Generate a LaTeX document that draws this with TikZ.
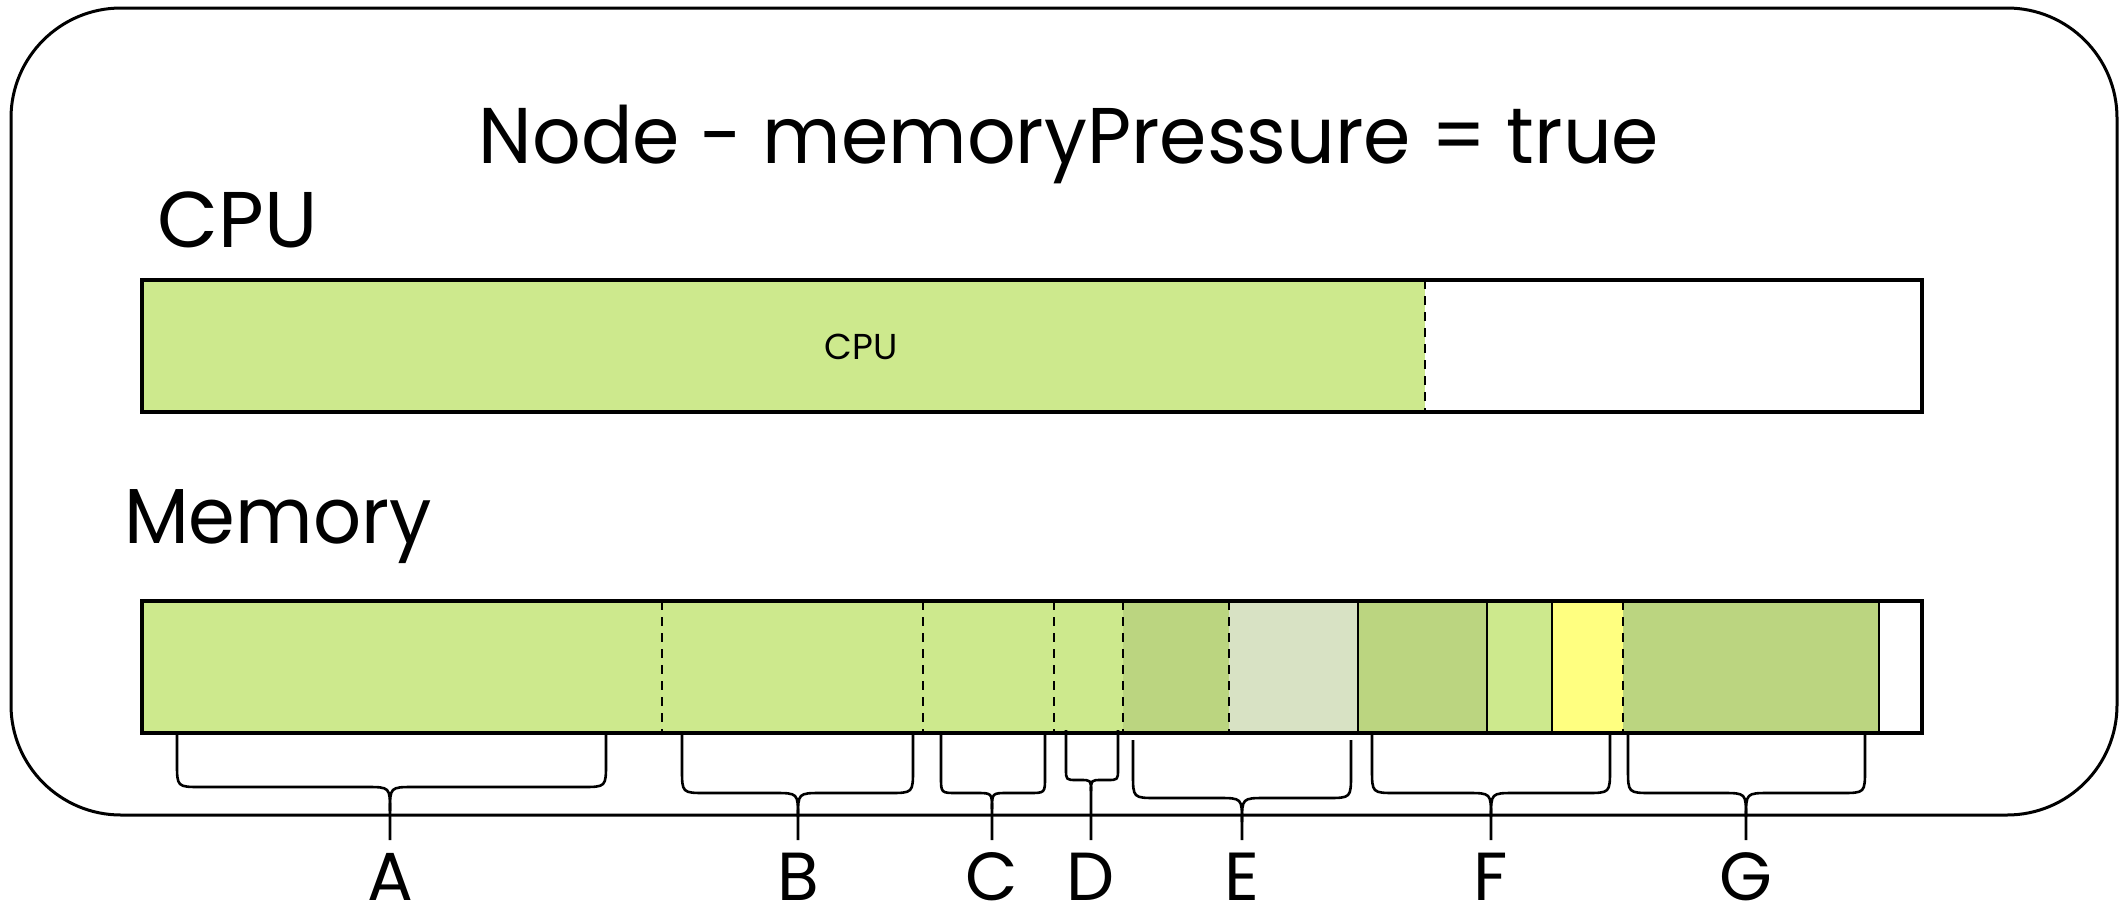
\documentclass[tikz,border=0pt]{standalone}
\usepackage{fontspec}
\setmainfont{Poppins}
\newfontfamily\titlefont[FakeStretch=0.965]{Poppins}
\definecolor{lg}{RGB}{205,233,141}
\definecolor{mg}{RGB}{187,213,128}
\definecolor{pg}{RGB}{216,226,196}
\definecolor{yl}{RGB}{255,255,128}
\tikzset{
  barline/.style={line width=3.5pt},
  divdash/.style={line width=2.5pt, dash pattern=on 9pt off 7pt},
  divsolid/.style={line width=2.5pt},
  braceline/.style={line width=2.6pt, line join=round},
  bigtxt/.style={inner sep=0pt, anchor=base, font=\fontsize{79}{90}\selectfont},
  lettxt/.style={inner sep=0pt, anchor=base, font=\fontsize{68}{78}\selectfont},
}
\newcommand\mybrace[7]{%
  % #1 x1, #2 x2, #3 xm, #4 ytop, #5 ymid, #6 r, #7 name
  \coordinate (#7tip) at (#3,840);
  \draw[braceline] (#1,#4) -- (#1,{#5-#6}) .. controls (#1,#5) .. ({#1+#6},#5)
     -- ({#3-#6},#5) .. controls (#3,#5) .. (#3,{#5+#6}) -- (#7tip);
  \draw[braceline] (#2,#4) -- (#2,{#5-#6}) .. controls (#2,#5) .. ({#2-#6},#5)
     -- ({#3+#6},#5) .. controls (#3,#5) .. (#3,{#5+#6});
}
\begin{document}
\begin{tikzpicture}[x=1pt,y=-1pt]
\useasboundingbox (0,0) rectangle (2122,908);
% outer box
\draw[line width=3pt, rounded corners=110pt] (11,8) rectangle (2117,815);
% titles
\node[bigtxt, font=\fontsize{79}{90}\titlefont] (title) at (1069,163) {Node - memoryPressure = true};
\node[bigtxt] (cpulbl) at (238,247) {CPU};
\node[bigtxt, font=\fontsize{78}{90}\titlefont] (memlbl) at (278,543) {Memory};
% CPU bar
\fill[lg] (142,280) rectangle (1425,412);
\node[inner sep=0pt, anchor=base, font=\fontsize{36}{40}\selectfont] (cputxt) at (861,359) {CPU};
\draw[divdash] (1425,280) -- (1425,412);
\draw[barline] (142,280) rectangle (1922,412);
% Memory bar
\fill[lg] (142,601) rectangle (1123,733);
\fill[mg] (1123,601) rectangle (1229,733);
\fill[pg] (1229,601) rectangle (1358,733);
\fill[mg] (1358,601) rectangle (1487,733);
\fill[lg] (1487,601) rectangle (1552,733);
\fill[yl] (1552,601) rectangle (1623,733);
\fill[mg] (1623,601) rectangle (1879,733);
\foreach \x in {662,923,1054,1123,1229,1623} \draw[divdash] (\x,601) -- (\x,733);
\foreach \x in {1358,1487,1552,1879} \draw[divsolid] (\x,601) -- (\x,733);
\draw[barline] (142,601) rectangle (1922,733);
% braces
\mybrace{177}{606}{390}{735}{787}{24}{A}
\mybrace{682}{913}{798}{735}{793}{24}{B}
\mybrace{941}{1045}{992}{735}{793}{16}{C}
\mybrace{1066}{1118}{1091}{730}{780}{11}{D}
\mybrace{1133}{1351}{1242}{740}{798}{24}{E}
\mybrace{1372}{1610}{1491}{735}{793}{24}{F}
\mybrace{1628}{1865}{1746}{735}{793}{24}{G}
% letters
\node[lettxt] (lA) at (390,900) {A};
\node[lettxt] (lB) at (798,900) {B};
\node[lettxt] (lC) at (992,900) {C};
\node[lettxt] (lD) at (1091,900) {D};
\node[lettxt] (lE) at (1242,900) {E};
\node[lettxt] (lF) at (1491,900) {F};
\node[lettxt] (lG) at (1746,900) {G};
\end{tikzpicture}
\end{document}
